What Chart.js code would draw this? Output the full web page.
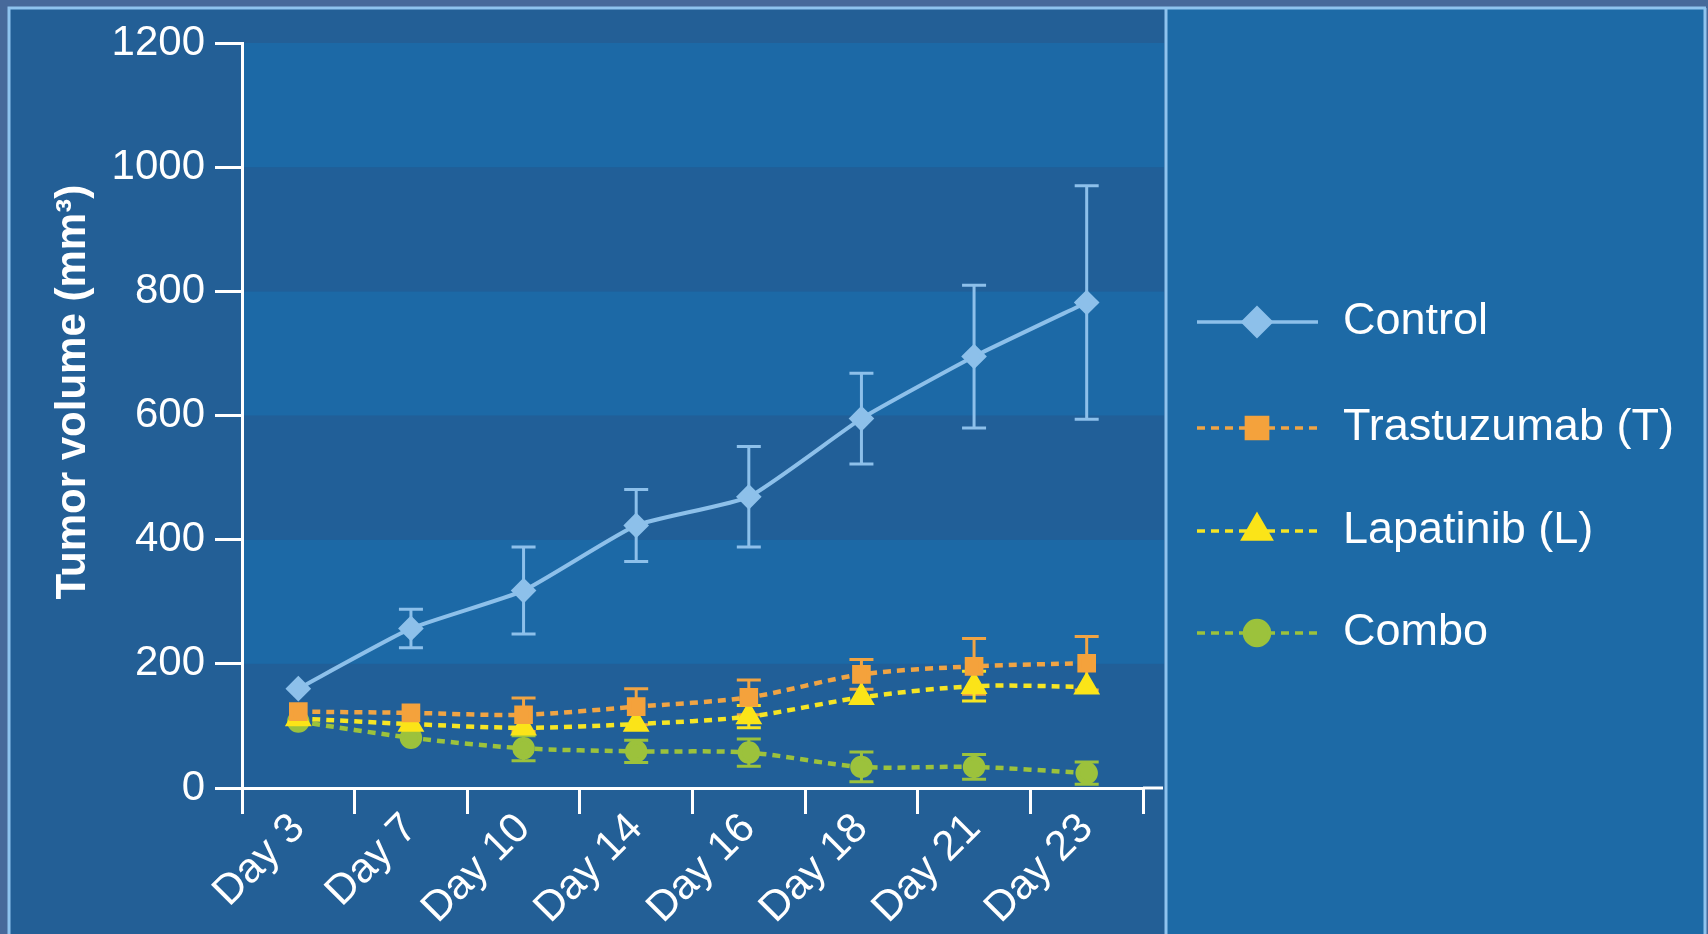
<!DOCTYPE html>
<html lang="en">
<head>
    <meta charset="UTF-8">
    <title>Tumor volume</title>
    <script src="https://cdn.jsdelivr.net/npm/chart.js"></script>
    <style>
        body { margin: 0; background: #47699a; }
        canvas { display: block; }
    </style>
</head>
<body>
    <canvas id="tumorChart" width="1708" height="934"></canvas>

    <script>
        // values (mm3)
        const days = ['Day 3', 'Day 7', 'Day 10', 'Day 14', 'Day 16', 'Day 18', 'Day 21', 'Day 23'];
        const control = [160, 257, 318, 423, 469, 595, 695, 782];
        const controlErr = [0, 31, 70, 58, 81, 73, 115, 188];
        const trastuzumab = [123, 121, 118, 131, 146, 183, 196, 201];
        const trastuzumabErr = [0, 0, 27, 29, 28, 24, 45, 43];
        const lapatinib = [112, 103, 97, 103, 115, 146, 164, 163];
        const lapatinibErr = [0, 0, 0, 0, 18, 0, 24, 0];
        const combo = [107, 81, 64, 59, 57, 34, 34, 24];
        const comboErr = [0, 0, 20, 18, 22, 24, 20, 18];
        const yTicks = [0, 200, 400, 600, 800, 1000, 1200];

        const FONT = "'Liberation Sans', Arial, sans-serif";
        const DIVIDER = 1166;

        // panels, frame and banded plot background
        const backdrop = {
            id: 'backdrop',
            beforeDraw(chart) {
                const ctx = chart.ctx;
                const y = chart.scales.y;
                const left = chart.chartArea.left;
                ctx.save();
                ctx.fillStyle = '#47699a';
                ctx.fillRect(0, 0, chart.width, chart.height);
                ctx.fillStyle = '#235f96';
                ctx.fillRect(10, 8, DIVIDER - 10, chart.height);
                ctx.fillStyle = '#1d6aa6';
                ctx.fillRect(DIVIDER, 8, 1705 - DIVIDER, chart.height);
                for (let i = 0; i < yTicks.length - 1; i++) {
                    const top = y.getPixelForValue(yTicks[i + 1]);
                    const bot = y.getPixelForValue(yTicks[i]);
                    ctx.fillStyle = i % 2 === 0 ? '#215f98' : '#1c69a6';
                    ctx.fillRect(left, top, DIVIDER - 2 - left, bot - top);
                }
                ctx.strokeStyle = '#8fc3ee';
                ctx.lineWidth = 3;
                ctx.beginPath();
                ctx.moveTo(9, chart.height); ctx.lineTo(9, 8); ctx.lineTo(1706, 8);
                ctx.moveTo(DIVIDER, 8); ctx.lineTo(DIVIDER, chart.height);
                ctx.moveTo(1705, 8); ctx.lineTo(1705, chart.height);
                ctx.stroke();
                ctx.restore();
            },
            afterDraw(chart) {
                // axis line runs on to the divider
                const ctx = chart.ctx;
                const b = chart.chartArea.bottom;
                ctx.save();
                ctx.strokeStyle = '#ffffff';
                ctx.lineWidth = 3;
                ctx.beginPath();
                ctx.moveTo(chart.chartArea.right, b);
                ctx.lineTo(DIVIDER - 3, b);
                ctx.stroke();
                ctx.restore();
            }
        };

        // vertical error bars with caps
        const errorBars = {
            id: 'errorBars',
            beforeDatasetsDraw(chart) {
                const ctx = chart.ctx;
                const x = chart.scales.x;
                const y = chart.scales.y;
                ctx.save();
                ctx.lineWidth = 3;
                chart.data.datasets.forEach(ds => {
                    ctx.strokeStyle = ds.borderColor;
                    ds.data.forEach((v, j) => {
                        const e = ds.errors[j];
                        if (!e) return;
                        const px = x.getPixelForValue(j);
                        const t = y.getPixelForValue(v + e);
                        const bt = y.getPixelForValue(v - e);
                        ctx.beginPath();
                        ctx.moveTo(px, t); ctx.lineTo(px, bt);
                        ctx.moveTo(px - 12, t); ctx.lineTo(px + 12, t);
                        ctx.moveTo(px - 12, bt); ctx.lineTo(px + 12, bt);
                        ctx.stroke();
                    });
                });
                ctx.restore();
            }
        };

        // legend in the right panel: line + marker + label
        const sideLegend = {
            id: 'sideLegend',
            afterDraw(chart) {
                const ctx = chart.ctx;
                const rows = [322, 428, 531, 633];
                const sizes = [14, 15, 16, 12.5];
                ctx.save();
                chart.data.datasets.forEach((ds, i) => {
                    const yy = rows[i];
                    ctx.strokeStyle = ds.borderColor;
                    ctx.lineWidth = 3.5;
                    ctx.setLineDash(ds.borderDash || []);
                    ctx.beginPath();
                    ctx.moveTo(1197, yy); ctx.lineTo(1318, yy);
                    ctx.stroke();
                    ctx.setLineDash([]);
                    ctx.fillStyle = ds.pointBackgroundColor;
                    ctx.strokeStyle = ds.pointBackgroundColor;
                    Chart.helpers.drawPoint(ctx, {
                        pointStyle: ds.pointStyle, rotation: 0,
                        radius: sizes[i], borderWidth: 1
                    }, 1257, yy);
                    ctx.fillStyle = '#ffffff';
                    ctx.font = '45px ' + FONT;
                    ctx.textBaseline = 'middle';
                    ctx.textAlign = 'left';
                    ctx.fillText(ds.label, 1343, yy);
                });
                ctx.restore();
            }
        };

        const dash = [8, 6];

        new Chart(document.getElementById('tumorChart'), {
            type: 'line',
            data: {
                labels: days,
                datasets: [{
                    label: 'Control',
                    data: control,
                    errors: controlErr,
                    borderColor: '#8dc0ea',
                    pointBackgroundColor: '#8dc0ea',
                    pointBorderColor: '#8dc0ea',
                    pointStyle: 'rectRot',
                    pointRadius: 10,
                    borderWidth: 4,
                    tension: 0.15
                }, {
                    label: 'Trastuzumab (T)',
                    data: trastuzumab,
                    errors: trastuzumabErr,
                    borderColor: '#f0a444',
                    pointBackgroundColor: '#f4a23c',
                    pointBorderColor: '#f4a23c',
                    pointStyle: 'rect',
                    pointRadius: 10,
                    borderWidth: 4.5,
                    borderDash: dash,
                    tension: 0.3
                }, {
                    label: 'Lapatinib (L)',
                    data: lapatinib,
                    errors: lapatinibErr,
                    borderColor: '#f6e524',
                    pointBackgroundColor: '#fbe418',
                    pointBorderColor: '#fbe418',
                    pointStyle: 'triangle',
                    pointRadius: 11,
                    borderWidth: 4.5,
                    borderDash: dash,
                    tension: 0.3
                }, {
                    label: 'Combo',
                    data: combo,
                    errors: comboErr,
                    borderColor: '#9cc23c',
                    pointBackgroundColor: '#9cc23c',
                    pointBorderColor: '#9cc23c',
                    pointStyle: 'circle',
                    pointRadius: 9,
                    borderWidth: 4.5,
                    borderDash: dash,
                    tension: 0.3
                }]
            },
            options: {
                responsive: false,
                animation: false,
                layout: { padding: { left: 0, top: 43, right: 565, bottom: 0 } },
                plugins: {
                    legend: { display: false },
                    tooltip: { enabled: false }
                },
                scales: {
                    x: {
                        offset: true,
                        grid: {
                            offset: true,
                            drawOnChartArea: false,
                            color: '#ffffff',
                            lineWidth: 3,
                            tickLength: 26
                        },
                        border: { color: '#ffffff', width: 3 },
                        ticks: {
                            color: '#ffffff',
                            font: { family: FONT, size: 42 },
                            minRotation: 45,
                            maxRotation: 45,
                            padding: -10
                        },
                        afterFit: s => { s.height = 146; }
                    },
                    y: {
                        min: 0,
                        max: 1200,
                        afterBuildTicks: s => { s.ticks = yTicks.map(v => ({ value: v })); },
                        grid: {
                            drawOnChartArea: false,
                            color: '#ffffff',
                            lineWidth: 3,
                            tickLength: 27
                        },
                        border: { color: '#ffffff', width: 3 },
                        ticks: {
                            color: '#ffffff',
                            font: { family: FONT, size: 42 },
                            padding: 10,
                            callback: v => String(v)
                        },
                        title: {
                            display: true,
                            text: '    Tumor volume (mm³)',
                            color: '#ffffff',
                            font: { family: FONT, size: 42, weight: 'bold' },
                            padding: { top: 48 }
                        },
                        afterFit: s => { s.width = 242; }
                    }
                }
            },
            plugins: [backdrop, errorBars, sideLegend]
        });
    </script>
</body>
</html>
